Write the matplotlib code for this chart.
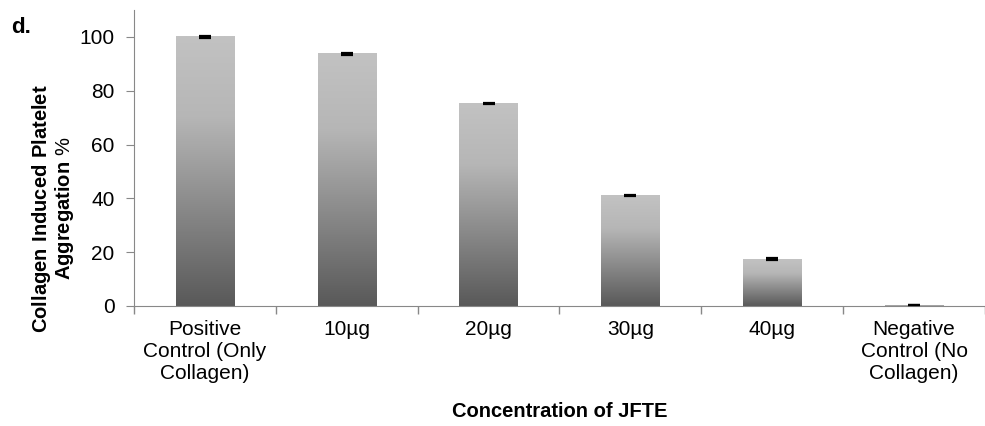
import numpy as np
import matplotlib.pyplot as plt
from matplotlib.colors import LinearSegmentedColormap

plt.rcParams['font.family'] = ['Liberation Sans', 'DejaVu Sans']
plt.rcParams['mathtext.fontset'] = 'custom'
plt.rcParams['mathtext.bf'] = 'Liberation Sans:bold'
plt.rcParams['mathtext.rm'] = 'Liberation Sans'

# data
categories = ['Positive\nControl (Only\nCollagen)', '10µg', '20µg', '30µg', '40µg',
              'Negative\nControl (No\nCollagen)']
values = [100, 93.7, 75.2, 41.1, 17.4, 0.3]
errors = [0.5, 0.3, 0.3, 0.3, 0.3, 0.1]

fig = plt.figure(figsize=(9.85, 4.26), dpi=100)
ax = fig.add_axes([0.136, 0.2817, 0.864, 0.6948])

x = np.arange(len(categories))
width = 0.41

# gray gradient, light on top, dark at the bottom
cmap = LinearSegmentedColormap.from_list('g', [(0, '#595959'), (0.7, '#b6b6b6'), (1, '#c2c2c2')])
grad = np.linspace(0, 1, 256).reshape(-1, 1)

bars = ax.bar(x, values, width=width, color='none', edgecolor='none', zorder=2)
for b in bars:
    ax.imshow(grad, cmap=cmap, origin='lower', aspect='auto', zorder=2,
              extent=[b.get_x(), b.get_x() + b.get_width(), 0, b.get_height()])

ax.errorbar(x, values, yerr=errors, fmt='none', ecolor='black', capsize=4.5,
            elinewidth=1, capthick=1.6, zorder=3)

ax.set_xlim(-0.5, len(categories) - 0.5)
ax.set_ylim(0, 110)
ax.set_yticks([0, 20, 40, 60, 80, 100])
ax.set_xticks(x)
ax.set_xticklabels(categories, fontsize=15, linespacing=1.2)
ax.set_xticks(np.arange(-0.5, len(categories), 1), minor=True)
ax.tick_params(axis='x', which='major', length=0, pad=10)
ax.tick_params(axis='x', which='minor', length=6, color='#888888', width=1)
ax.tick_params(axis='y', labelsize=15, length=6, color='#888888', pad=8)

for s in ['top', 'right']:
    ax.spines[s].set_visible(False)
for s in ['left', 'bottom']:
    ax.spines[s].set_color('#888888')

ax.set_xlabel('Concentration of JFTE', fontsize=14.5, fontweight='bold', labelpad=14)
ax.set_ylabel('$\\mathbf{Collagen\\ Induced\\ Platelet}$\n$\\mathbf{Aggregation}$ %',
              fontsize=14.5, linespacing=1.0)
ax.yaxis.set_label_coords(-0.068, 0.33)

fig.text(0.011, 0.922, 'd.', fontsize=16, fontweight='bold', va='baseline')

plt.savefig('out.png', dpi=100)
